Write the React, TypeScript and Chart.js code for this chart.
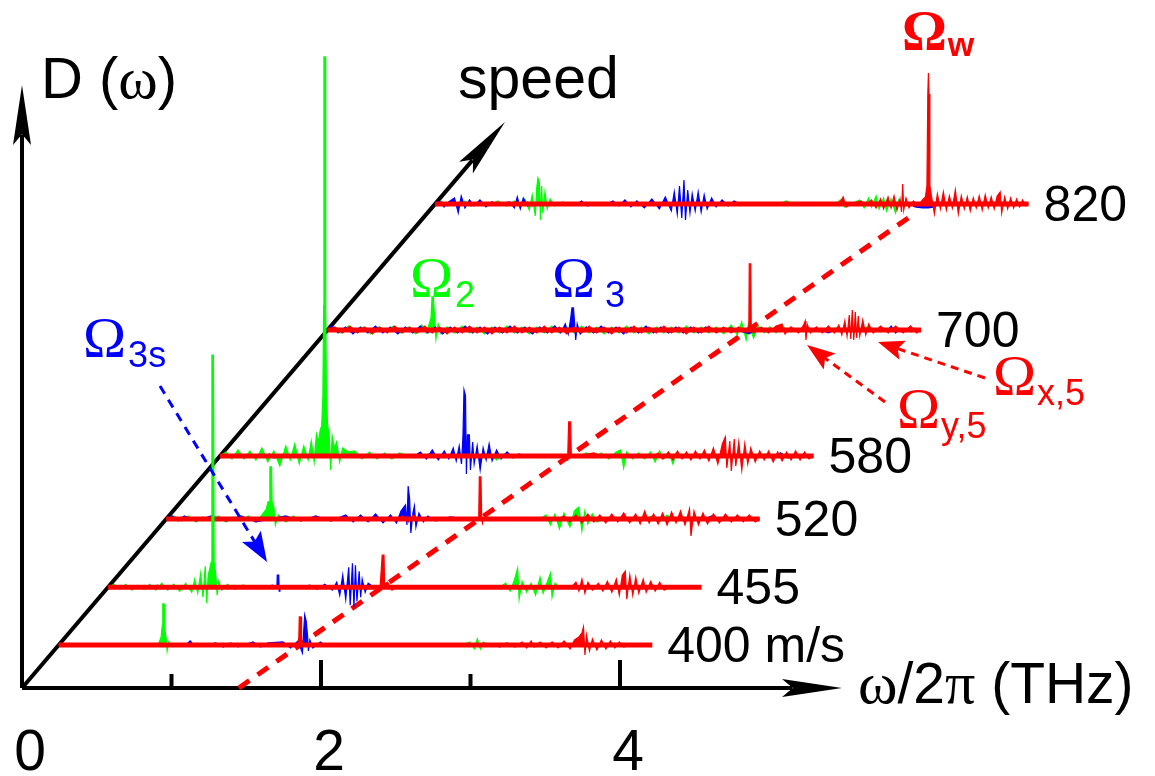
import React, { useEffect, useRef } from 'react';
import { Chart, registerables } from 'chart.js';

Chart.register(...registerables);

type Pt = [number, number];

// ---------------- DATA ----------------
// speeds (m/s), back row first
const speeds = [820, 700, 580, 520, 455, 400];
const speedLabels = ['820', '700', '580', '520', '455', '400 m/s'];
// frequency span of every spectrum (THz)
const freqRange: Pt = [0, 3.97];
// bottom axis ticks (THz)
const majorTicks = [2, 4];
const minorTicks = [1, 3];
const tickLabelValues = [0, 2, 4];
const tickLabels = ['0', '2', '4'];
// red dashed line: position of the Omega_w peak vs speed [m/s, THz]
const dispersion: Pt[] = [[359, 1.45], [808, 3.25]];

// spectra: [frequency THz, amplitude a.u.] (positive up, negative down)
const green820: Pt[] = [[0,0],[0.04,3],[0.08,-2],[0.12,2],[0.16,-3],[0.2,3],[0.24,-2],[0.3,2],[0.36,-2],[0.42,3],[0.48,-2],[0.53,3],[0.57,-3],[0.6,5],[0.63,-6],[0.65,9],[0.67,-12],[0.68,16],[0.688,26],[0.698,22],[0.705,-16],[0.713,18],[0.72,-9],[0.735,12],[0.75,-5],[0.77,5],[0.8,-2],[0.85,2],[0.9,0],[2.3,0],[2.35,3],[2.4,0],[2.68,0],[2.71,4],[2.74,-3],[2.78,0],[2.84,4],[2.87,-4],[2.9,6],[2.92,-3],[2.95,8],[2.97,-5],[3.0,6],[3.02,-7],[3.05,5],[3.08,-9],[3.1,4],[3.13,0]];
const blue820: Pt[] = [[0,0],[0.03,3],[0.06,-3],[0.09,2],[0.13,6],[0.155,-9],[0.175,8],[0.2,-4],[0.23,4],[0.26,-2],[0.3,4],[0.34,-3],[0.38,2],[0.43,0],[0.5,2],[0.53,-4],[0.55,7],[0.57,-5],[0.59,6],[0.62,-2],[0.65,0],[0.95,0],[0.98,3],[1.02,-2],[1.05,0],[1.15,0],[1.19,3],[1.23,-2],[1.27,4],[1.31,-3],[1.35,3],[1.4,-4],[1.45,5],[1.5,-5],[1.54,7],[1.58,-7],[1.6,12],[1.62,-10],[1.635,18],[1.65,-14],[1.665,24],[1.675,-16],[1.69,14],[1.705,-9],[1.72,10],[1.74,-7],[1.76,12],[1.78,-8],[1.8,9],[1.82,-5],[1.85,6],[1.88,-3],[1.92,4],[1.96,-2],[2.0,3],[2.04,0],[3.18,0],[3.21,-3],[3.26,-4],[3.3,-4],[3.34,-3],[3.37,0]];
const red820: Pt[] = [[0,0],[0.6,0],[0.62,2],[0.65,-2],[0.68,0],[2.7,0],[2.73,7],[2.75,-3],[2.78,0],[2.85,3],[2.88,-2],[2.92,4],[2.95,-4],[2.98,5],[3.0,-5],[3.03,7],[3.05,-4],[3.07,8],[3.09,-6],[3.11,5],[3.12,-8],[3.128,20],[3.135,-6],[3.15,6],[3.17,-4],[3.2,3],[3.23,-2],[3.26,4],[3.28,7],[3.29,18],[3.296,110],[3.3,131],[3.304,110],[3.31,18],[3.32,8],[3.34,-10],[3.36,10],[3.38,-5],[3.4,12],[3.42,-6],[3.44,8],[3.46,-4],[3.48,14],[3.5,-10],[3.52,8],[3.54,-5],[3.56,7],[3.58,-7],[3.6,6],[3.62,-4],[3.64,8],[3.66,-6],[3.68,9],[3.7,-4],[3.72,7],[3.74,-5],[3.76,8],[3.78,12],[3.79,-9],[3.81,7],[3.83,-5],[3.85,6],[3.87,-4],[3.89,5],[3.91,-3],[3.93,4],[3.95,-2],[3.97,0]];

const green700: Pt[] = [[0,0],[0.04,3],[0.09,-3],[0.14,4],[0.19,-2],[0.24,3],[0.29,-4],[0.34,3],[0.39,-2],[0.44,4],[0.49,-3],[0.54,3],[0.59,-4],[0.63,5],[0.66,-3],[0.68,6],[0.692,12],[0.699,33],[0.708,33],[0.716,12],[0.725,-9],[0.74,6],[0.76,-4],[0.8,3],[0.85,-3],[0.9,4],[0.95,-3],[1.0,3],[1.05,-4],[1.1,3],[1.15,-3],[1.2,4],[1.25,-3],[1.3,3],[1.35,-4],[1.4,3],[1.45,-3],[1.5,4],[1.55,-3],[1.6,3],[1.65,-3],[1.7,4],[1.75,-3],[1.8,3],[1.85,-4],[1.9,3],[1.95,-3],[2.0,4],[2.05,-3],[2.1,3],[2.15,-4],[2.2,3],[2.25,-3],[2.3,3],[2.35,-3],[2.4,4],[2.45,-3],[2.5,3],[2.55,-3],[2.6,3],[2.65,-4],[2.7,5],[2.74,-5],[2.77,8],[2.8,-10],[2.815,6],[2.85,-8],[2.88,4],[2.92,-3],[2.96,3],[3.0,-3],[3.05,3],[3.1,-2],[3.2,2],[3.3,-2],[3.4,2],[3.5,-2],[3.6,3],[3.7,-2],[3.8,2],[3.9,-2],[3.97,0]];
const blue700: Pt[] = [[0,0],[0.03,4],[0.07,-3],[0.12,3],[0.17,-4],[0.22,3],[0.27,-3],[0.32,4],[0.37,-3],[0.42,3],[0.47,-4],[0.52,3],[0.57,-3],[0.62,4],[0.67,-3],[0.72,3],[0.77,-4],[0.82,3],[0.87,-3],[0.92,4],[0.97,-3],[1.02,3],[1.07,-4],[1.12,3],[1.17,-3],[1.22,4],[1.27,-3],[1.32,3],[1.37,-4],[1.42,3],[1.47,-3],[1.52,4],[1.56,-3],[1.59,6],[1.61,-4],[1.625,10],[1.635,22],[1.645,22],[1.652,8],[1.66,-10],[1.67,6],[1.69,-4],[1.73,3],[1.78,-3],[1.83,4],[1.88,-3],[1.93,3],[1.98,-4],[2.03,3],[2.08,-3],[2.13,4],[2.18,-3],[2.23,3],[2.28,-3],[2.33,3],[2.38,-3],[2.43,3],[2.48,-3],[2.53,3],[2.6,-2],[2.7,2],[2.78,-2],[2.82,-4],[2.84,-2],[2.9,0],[3.3,0],[3.35,-3],[3.4,0],[3.75,0],[3.77,4],[3.8,-3],[3.82,0],[3.97,0]];
const red700: Pt[] = [[0,0],[0.05,3],[0.1,-3],[0.15,4],[0.2,-3],[0.25,3],[0.3,-4],[0.35,3],[0.4,-3],[0.45,4],[0.5,-3],[0.55,3],[0.6,-3],[0.65,4],[0.7,-3],[0.75,3],[0.8,-4],[0.85,3],[0.9,-3],[0.95,4],[1.0,-3],[1.05,3],[1.1,-4],[1.15,3],[1.2,-3],[1.25,4],[1.3,-3],[1.35,3],[1.4,-3],[1.45,4],[1.5,-3],[1.55,3],[1.6,-4],[1.65,3],[1.7,-3],[1.75,4],[1.8,-3],[1.85,3],[1.9,-4],[1.95,3],[2.0,-3],[2.05,4],[2.1,-3],[2.15,3],[2.2,-3],[2.25,4],[2.3,-3],[2.35,3],[2.4,-4],[2.45,3],[2.5,-3],[2.55,4],[2.6,-3],[2.65,3],[2.7,-3],[2.75,3],[2.8,-2],[2.818,4],[2.821,66],[2.831,66],[2.834,4],[2.85,-3],[2.9,3],[2.95,-3],[3.0,4],[3.04,6],[3.06,-4],[3.1,3],[3.15,-3],[3.185,5],[3.195,9],[3.2,-10],[3.21,5],[3.23,-3],[3.27,3],[3.31,-3],[3.35,4],[3.39,-3],[3.42,5],[3.44,-5],[3.46,9],[3.475,-6],[3.49,15],[3.5,-9],[3.51,20],[3.52,-10],[3.53,18],[3.54,-8],[3.55,14],[3.56,-6],[3.58,10],[3.6,-5],[3.62,6],[3.65,-3],[3.7,4],[3.75,-3],[3.8,4],[3.85,-3],[3.9,4],[3.94,-3],[3.97,0]];

const green580: Pt[] = [[0,0],[0.04,4],[0.08,-3],[0.12,6],[0.16,-3],[0.2,5],[0.24,-4],[0.28,8],[0.32,-6],[0.36,5],[0.4,-10],[0.44,10],[0.47,-4],[0.5,12],[0.53,-8],[0.56,10],[0.59,-4],[0.61,15],[0.63,-6],[0.645,22],[0.66,14],[0.67,26],[0.68,30],[0.688,60],[0.693,150],[0.695,399],[0.704,399],[0.707,150],[0.712,60],[0.72,30],[0.73,22],[0.74,-14],[0.75,20],[0.765,8],[0.78,14],[0.8,-6],[0.82,8],[0.86,4],[0.9,5],[0.95,-3],[1.0,4],[1.05,-3],[1.1,3],[1.15,-3],[1.2,3],[1.3,-2],[1.4,2],[1.5,-2],[1.6,2],[1.7,-2],[1.8,3],[1.85,-4],[1.9,2],[2.0,0],[2.4,0],[2.45,3],[2.5,-2],[2.55,3],[2.6,-3],[2.65,4],[2.68,6],[2.7,-12],[2.72,4],[2.76,-3],[2.8,3],[2.84,-3],[2.88,4],[2.91,-6],[2.94,5],[2.97,-3],[3.0,4],[3.03,-8],[3.05,3],[3.1,-2],[3.2,2],[3.3,0],[3.6,0],[3.65,2],[3.7,-2],[3.75,3],[3.8,-2],[3.85,3],[3.9,-2],[3.97,0]];
const blue580: Pt[] = [[0,0],[0.3,0],[0.33,2],[0.36,-2],[0.4,0],[1.3,0],[1.34,4],[1.38,-3],[1.42,6],[1.46,-4],[1.5,5],[1.53,-3],[1.56,8],[1.58,-5],[1.6,10],[1.615,-8],[1.625,20],[1.632,66],[1.642,60],[1.648,-18],[1.655,21],[1.668,21],[1.675,-14],[1.69,14],[1.7,-8],[1.72,10],[1.74,-14],[1.76,8],[1.78,-4],[1.8,12],[1.82,-5],[1.85,6],[1.88,-3],[1.92,4],[1.96,-2],[2.0,2],[2.04,0],[3.7,0],[3.75,3],[3.8,-2],[3.85,0]];
const red580: Pt[] = [[0,0],[2.3,0],[2.325,-4],[2.332,34],[2.345,34],[2.35,0],[2.4,0],[2.5,3],[2.55,0],[2.9,0],[2.93,3],[2.96,-3],[3.0,4],[3.03,-4],[3.06,5],[3.09,-3],[3.12,4],[3.15,-4],[3.18,5],[3.21,-3],[3.24,6],[3.27,-5],[3.3,8],[3.33,-8],[3.36,12],[3.38,19],[3.39,-12],[3.41,15],[3.42,-15],[3.44,17],[3.45,-10],[3.47,14],[3.49,-14],[3.51,12],[3.53,-8],[3.55,8],[3.58,-6],[3.61,5],[3.64,-4],[3.67,5],[3.7,-6],[3.73,4],[3.76,-5],[3.79,4],[3.82,-4],[3.85,5],[3.88,-4],[3.91,4],[3.94,-3],[3.97,0]];

const green520: Pt[] = [[0,0],[0.05,3],[0.1,-2],[0.15,3],[0.2,-3],[0.25,2],[0.3,-2],[0.35,3],[0.4,-3],[0.45,2],[0.5,-2],[0.55,3],[0.6,-3],[0.64,4],[0.67,10],[0.68,17],[0.69,17],[0.693,52],[0.704,52],[0.708,17],[0.72,12],[0.73,-6],[0.75,4],[0.8,-3],[0.85,3],[0.9,-2],[1.0,2],[1.1,-2],[1.2,0],[2.5,0],[2.54,4],[2.57,-6],[2.6,5],[2.63,-10],[2.66,6],[2.7,-8],[2.73,8],[2.76,12],[2.78,-12],[2.8,8],[2.82,-5],[2.85,5],[2.88,-3],[2.92,0],[3.2,0],[3.25,3],[3.3,-3],[3.35,4],[3.4,-2],[3.5,2],[3.6,0]];
const blue520: Pt[] = [[0,0],[0.04,3],[0.08,-2],[0.12,3],[0.2,-2],[0.3,3],[0.4,-2],[0.5,3],[0.6,-3],[0.8,3],[0.9,-2],[1.0,3],[1.1,-2],[1.2,4],[1.25,-3],[1.3,4],[1.35,-3],[1.4,5],[1.45,-4],[1.5,4],[1.54,-4],[1.57,8],[1.6,14],[1.61,-6],[1.618,33],[1.628,20],[1.636,-14],[1.65,6],[1.66,13],[1.67,-8],[1.69,6],[1.72,-3],[1.75,3],[1.8,-2],[1.9,2],[2.0,0],[3.6,0],[3.65,3],[3.7,0]];
const red520: Pt[] = [[0,0],[1.55,0],[1.58,3],[1.62,-3],[1.65,4],[1.68,0],[2.09,0],[2.094,42],[2.105,42],[2.11,0],[2.115,-4],[2.12,0],[2.62,0],[2.66,3],[2.7,-3],[2.74,4],[2.78,-4],[2.82,5],[2.86,-3],[2.9,4],[2.94,-4],[2.98,5],[3.02,-3],[3.06,6],[3.1,-4],[3.14,5],[3.17,-5],[3.2,8],[3.23,-4],[3.26,5],[3.29,-5],[3.32,6],[3.35,-6],[3.38,7],[3.41,-4],[3.44,8],[3.47,-6],[3.5,10],[3.51,-17],[3.53,8],[3.56,-6],[3.59,6],[3.62,-5],[3.66,5],[3.7,-4],[3.74,5],[3.78,-3],[3.82,4],[3.86,-3],[3.9,4],[3.94,-3],[3.97,0]];

const green455: Pt[] = [[0,0],[0.04,3],[0.08,-2],[0.12,3],[0.16,-3],[0.2,2],[0.24,-2],[0.28,3],[0.32,-3],[0.36,4],[0.4,-3],[0.44,3],[0.48,-4],[0.52,4],[0.56,-5],[0.58,8],[0.6,-6],[0.62,14],[0.635,-10],[0.65,21],[0.66,-16],[0.67,12],[0.68,18],[0.69,25],[0.695,232],[0.705,232],[0.71,25],[0.72,14],[0.73,-8],[0.74,6],[0.76,-3],[0.8,3],[0.85,-2],[0.9,2],[1.0,0],[1.7,0],[1.74,-2],[1.78,0],[2.62,0],[2.66,4],[2.69,-4],[2.72,8],[2.74,19],[2.75,-12],[2.77,6],[2.8,-5],[2.83,4],[2.86,-8],[2.89,10],[2.91,-6],[2.94,6],[2.96,14],[2.97,-10],[2.99,4],[3.02,0]];
const blue455: Pt[] = [[0,0],[0.3,0],[0.33,2],[0.36,0],[1.05,0],[1.1,2],[1.13,0],[1.132,12],[1.142,12],[1.145,-4],[1.15,0],[1.3,0],[1.35,2],[1.4,-2],[1.45,3],[1.5,-3],[1.53,5],[1.55,-8],[1.57,12],[1.59,-12],[1.61,20],[1.62,-18],[1.635,24],[1.645,-20],[1.655,22],[1.665,-14],[1.68,16],[1.69,-10],[1.7,8],[1.72,-5],[1.74,4],[1.78,0]];
const red455: Pt[] = [[0,0],[1.82,0],[1.834,32],[1.846,32],[1.85,3],[1.87,5],[1.9,-3],[1.92,0],[3.1,0],[3.13,5],[3.15,-4],[3.17,8],[3.19,-6],[3.21,5],[3.24,-3],[3.28,4],[3.31,-4],[3.34,6],[3.37,-5],[3.4,8],[3.42,-8],[3.44,12],[3.46,16],[3.47,-12],[3.49,12],[3.51,-8],[3.53,10],[3.55,-6],[3.58,8],[3.6,-5],[3.63,6],[3.66,-4],[3.69,5],[3.72,-3],[3.75,0]];

const green400: Pt[] = [[0,0],[0.2,0],[0.25,1],[0.3,0],[0.64,0],[0.67,2],[0.685,8],[0.693,20],[0.696,41],[0.705,41],[0.71,15],[0.72,5],[0.725,-6],[0.735,3],[0.75,0],[2.7,0],[2.75,3],[2.78,-4],[2.8,6],[2.82,-4],[2.84,3],[2.88,0]];
const blue400: Pt[] = [[0,0],[0.85,0],[0.88,4],[0.9,0],[1.0,0],[1.05,2],[1.1,-2],[1.15,2],[1.2,-2],[1.3,3],[1.35,-2],[1.4,2],[1.5,3],[1.55,-3],[1.6,4],[1.63,-8],[1.645,30],[1.655,24],[1.665,8],[1.67,-6],[1.68,5],[1.7,-3],[1.75,3],[1.78,0],[2.9,0],[2.95,-2],[3.0,0],[3.55,0],[3.6,-2],[3.65,0]];
const red400: Pt[] = [[0,0],[1.6,0],[1.606,8],[1.609,28],[1.621,28],[1.624,8],[1.63,0],[2.95,0],[3.0,2],[3.05,-2],[3.1,3],[3.13,-3],[3.16,4],[3.18,-2],[3.22,3],[3.26,-3],[3.3,3],[3.34,-3],[3.38,4],[3.42,-4],[3.45,5],[3.48,8],[3.5,12],[3.51,18],[3.52,-10],[3.53,10],[3.55,-6],[3.57,6],[3.6,-5],[3.63,5],[3.66,-4],[3.69,4],[3.72,-3],[3.75,3],[3.78,-2],[3.82,0]];

const greenSeries = [green820, green700, green580, green520, green455, green400];
const blueSeries = [blue820, blue700, blue580, blue520, blue455, blue400];
const redSeries = [red820, red700, red580, red520, red455, red400];

// ---------------- LAYOUT ----------------
const W = 1155;
const H = 776;
const ORIGIN_PX = 22;
const ORIGIN_PY = 688;
const PX_PER_THZ = 149.5;
const SPEED_ZERO = 359; // speed whose spectrum would sit on the origin
const RISE_PER_MS = 1.05; // a.u. per m/s along the speed axis
const SLANT = 483 / 566; // horizontal px per vertical px of the speed axis
const SPEED_AXIS_END = 898;
const FREQ_AXIS_END = 5.485;
const AMP_AXIS_END = 603;

const GREEN = '#00ff00';
const BLUE = '#0000ff';
const RED = '#ff0000';
const SANS = '"Liberation Sans", Arial, sans-serif';
const SERIF = '"Liberation Serif", "Times New Roman", serif';

function offset(v: number) {
  const dy = RISE_PER_MS * (v - SPEED_ZERO);
  return { dx: (dy * SLANT) / PX_PER_THZ, dy };
}

function arrowHead(ctx: CanvasRenderingContext2D, tx: number, ty: number, ux: number, uy: number, L: number, w: number, notch = 0.8) {
  const bx = tx - ux * L, by = ty - uy * L;
  const px = -uy, py = ux;
  ctx.beginPath();
  ctx.moveTo(tx, ty);
  ctx.lineTo(bx + px * w, by + py * w);
  ctx.lineTo(tx - ux * L * notch, ty - uy * L * notch);
  ctx.lineTo(bx - px * w, by - py * w);
  ctx.closePath();
  ctx.fill();
}

function arrow(ctx: CanvasRenderingContext2D, x1: number, y1: number, x2: number, y2: number, color: string, lw: number, dash: number[], L: number, w: number) {
  const dx = x2 - x1, dy = y2 - y1;
  const len = Math.hypot(dx, dy);
  const ux = dx / len, uy = dy / len;
  ctx.save();
  ctx.strokeStyle = color;
  ctx.fillStyle = color;
  ctx.lineWidth = lw;
  ctx.setLineDash(dash);
  ctx.beginPath();
  ctx.moveTo(x1, y1);
  ctx.lineTo(x2 - ux * L * 0.75, y2 - uy * L * 0.75);
  ctx.stroke();
  ctx.setLineDash([]);
  arrowHead(ctx, x2, y2, ux, uy, L, w);
  ctx.restore();
}

type Run = { t: string; font: string; dy?: number; dx?: number };
function runs(ctx: CanvasRenderingContext2D, x: number, y: number, color: string, items: Run[]) {
  ctx.save();
  ctx.fillStyle = color;
  ctx.textAlign = 'left';
  ctx.textBaseline = 'alphabetic';
  let cx = x;
  for (const r of items) {
    cx += r.dx || 0;
    ctx.font = r.font;
    ctx.fillText(r.t, cx, y + (r.dy || 0));
    cx += ctx.measureText(r.t).width;
  }
  ctx.restore();
}

const axesPlugin = {
  id: 'axes3d',
  beforeDatasetsDraw(chart: any) {
    const { ctx, scales } = chart;
    const x = scales.x, y = scales.y;
    const ox = x.getPixelForValue(0), oy = y.getPixelForValue(0);
    ctx.save();
    ctx.strokeStyle = '#000';
    ctx.fillStyle = '#000';
    ctx.lineWidth = 4;
    const axis = (tx: number, ty: number) => {
      const dx = tx - ox, dy = ty - oy;
      const len = Math.hypot(dx, dy);
      const ux = dx / len, uy = dy / len;
      ctx.beginPath();
      ctx.moveTo(ox, oy);
      ctx.lineTo(tx - ux * 50, ty - uy * 50);
      ctx.stroke();
      arrowHead(ctx, tx, ty, ux, uy, 60, 9, 0.82);
    };
    axis(ox, y.getPixelForValue(AMP_AXIS_END));
    axis(x.getPixelForValue(FREQ_AXIS_END), oy);
    const s = offset(SPEED_AXIS_END);
    axis(x.getPixelForValue(s.dx), y.getPixelForValue(s.dy));
    ctx.lineWidth = 4;
    for (const t of minorTicks) {
      const px = x.getPixelForValue(t);
      ctx.beginPath(); ctx.moveTo(px, oy); ctx.lineTo(px, oy - 14); ctx.stroke();
    }
    for (const t of majorTicks) {
      const px = x.getPixelForValue(t);
      ctx.beginPath(); ctx.moveTo(px, oy); ctx.lineTo(px, oy - 28); ctx.stroke();
    }
    ctx.restore();
  },
};

const labelPlugin = {
  id: 'labels3d',
  afterDatasetsDraw(chart: any) {
    const { ctx, scales } = chart;
    const x = scales.x, y = scales.y;
    ctx.save();
    // speed labels at the end of every spectrum
    ctx.fillStyle = '#000';
    ctx.font = `50px ${SANS}`;
    ctx.textAlign = 'left';
    ctx.textBaseline = 'alphabetic';
    speeds.forEach((v, i) => {
      const o = offset(v);
      ctx.fillText(speedLabels[i], x.getPixelForValue(freqRange[1] + o.dx) + 15, y.getPixelForValue(o.dy) + 17);
    });
    // frequency tick labels
    ctx.font = `57px ${SANS}`;
    ctx.textAlign = 'center';
    tickLabelValues.forEach((t, i) => {
      ctx.fillText(tickLabels[i], x.getPixelForValue(t) + 8, 770);
    });
    ctx.restore();

    const S58 = `58px ${SANS}`;
    runs(ctx, 41, 98, '#000', [{ t: 'D (', font: S58 }, { t: 'ω', font: `60px ${SERIF}` }, { t: ')', font: S58 }]);
    runs(ctx, 458, 98, '#000', [{ t: 'speed', font: `59px ${SANS}` }]);
    runs(ctx, 858, 703, '#000', [
      { t: 'ω', font: `60px ${SERIF}` },
      { t: '/2', font: `57px ${SANS}` },
      { t: 'π', font: `60px ${SERIF}` },
      { t: ' (THz)', font: `57px ${SANS}` },
    ]);

    const OM = `58px ${SERIF}`;
    const SUB = `36px ${SANS}`;
    runs(ctx, 410, 297, GREEN, [{ t: 'Ω', font: OM }, { t: '2', font: SUB, dy: 10, dx: 2 }]);
    runs(ctx, 552, 297, BLUE, [{ t: 'Ω', font: OM }, { t: '3', font: SUB, dy: 10, dx: 10 }]);
    runs(ctx, 83, 357, BLUE, [{ t: 'Ω', font: OM }, { t: '3s', font: SUB, dy: 10, dx: 2 }]);
    runs(ctx, 902, 50, RED, [{ t: 'Ω', font: `bold 56px ${SERIF}` }, { t: 'w', font: `bold 34px ${SANS}`, dy: 6, dx: 1 }]);
    runs(ctx, 993, 395, RED, [{ t: 'Ω', font: OM }, { t: 'x,5', font: SUB, dy: 10, dx: 1 }]);
    runs(ctx, 897, 428, RED, [{ t: 'Ω', font: OM }, { t: 'y,5', font: SUB, dy: 10, dx: 1 }]);

    arrow(ctx, 985, 378, 878, 342, RED, 3, [8, 6], 26, 10);
    arrow(ctx, 885, 402, 807, 345, RED, 3, [8, 6], 28, 10);
    arrow(ctx, 160, 386, 267, 562, BLUE, 3, [9, 7], 30, 11);
  },
};

function buildDatasets() {
  const list: any[] = [];
  // dashed line through the Omega_w peaks
  list.push({
    data: dispersion.map(([v, f]) => {
      const o = offset(v);
      return { x: f + o.dx, y: o.dy };
    }),
    borderColor: RED,
    borderWidth: 5,
    borderDash: [13, 10],
    fill: false,
    pointRadius: 0,
  });
  speeds.forEach((v, i) => {
    const o = offset(v);
    const base = o.dy;
    const mk = (pts: Pt[], color: string) => ({
      data: pts.map(([f, a]) => ({ x: f + o.dx, y: base + a })),
      borderColor: color,
      backgroundColor: color,
      borderWidth: 1.2,
      fill: { value: base },
      pointRadius: 0,
    });
    list.push(mk(greenSeries[i], GREEN));
    list.push(mk(blueSeries[i], BLUE));
    list.push(mk(redSeries[i], RED));
    list.push({
      data: freqRange.map((f) => ({ x: f + o.dx, y: base })),
      borderColor: RED,
      borderWidth: 5,
      fill: false,
      pointRadius: 0,
    });
  });
  // first dataset is drawn on top in Chart.js
  return list.reverse();
}

export default function App() {
  const ref = useRef<HTMLCanvasElement>(null);
  useEffect(() => {
    const canvas = ref.current;
    if (!canvas) return;
    const chart = new Chart(canvas, {
      type: 'line',
      data: { datasets: buildDatasets() },
      options: {
        animation: false,
        responsive: false,
        devicePixelRatio: 1,
        layout: { padding: 0 },
        elements: { line: { tension: 0 }, point: { radius: 0 } },
        plugins: { legend: { display: false }, tooltip: { enabled: false } },
        events: [],
        scales: {
          x: { type: 'linear', display: false, min: -ORIGIN_PX / PX_PER_THZ, max: (W - ORIGIN_PX) / PX_PER_THZ },
          y: { type: 'linear', display: false, min: -(H - ORIGIN_PY), max: ORIGIN_PY },
        },
      },
      plugins: [axesPlugin, labelPlugin],
    } as any);
    return () => chart.destroy();
  }, []);
  return (
    <div style={{ position: 'absolute', left: 0, top: 0, width: W, height: H, background: '#fff' }}>
      <canvas ref={ref} width={W} height={H} style={{ display: 'block', width: W, height: H }} />
    </div>
  );
}
